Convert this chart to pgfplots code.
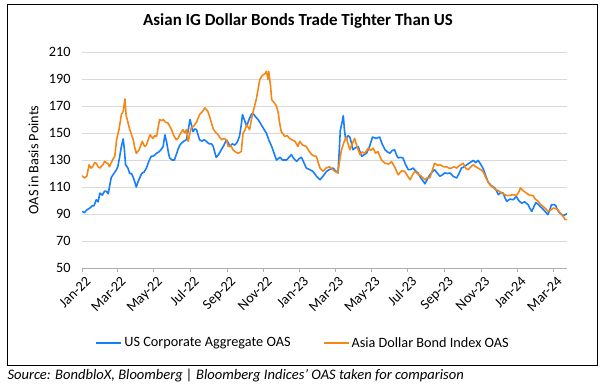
\documentclass[border=0pt]{standalone}
\usepackage{pgfplots}
\pgfplotsset{compat=1.18}
\usepackage{fontspec}
\setmainfont{Carlito}
\definecolor{usblue}{RGB}{22,126,250}
\definecolor{asorange}{RGB}{245,135,22}
\definecolor{gridgray}{RGB}{217,217,217}
\begin{document}
\begin{tikzpicture}
\useasboundingbox (0,0) rectangle (600bp,385bp);
\draw[line width=0.9pt] (7.5bp,20bp) rectangle (597.5bp,380.5bp);
\node[font=\fontsize{17}{20}\selectfont\bfseries] at (298bp,364bp) {Asian IG Dollar Bonds Trade Tighter Than US};
\node[anchor=west,font=\fontsize{14.6}{16}\selectfont\itshape] at (4bp,9.5bp) {Source: BondbloX, Bloomberg | Bloomberg Indices’ OAS taken for comparison};
\begin{axis}[
  at={(82bp,117bp)}, anchor=south west,
  scale only axis, width=485bp, height=216bp,
  xmin=0, xmax=813, ymin=50, ymax=210,
  axis x line*=bottom, axis y line*=left,
  y axis line style={draw=none},
  x axis line style={draw=gridgray!80!black, line width=0.8pt, -},
  ytick={50,70,...,210},
  xtick={0,59,120,181,243,304,365,424,485,546,608,669,730,790},
  xticklabels={Jan-22,Mar-22,May-22,Jul-22,Sep-22,Nov-22,Jan-23,Mar-23,May-23,Jul-23,Sep-23,Nov-23,Jan-24,Mar-24},
  xticklabel style={rotate=45, anchor=north east, font=\fontsize{14.3}{16}\selectfont, xshift=3bp, yshift=-1bp},
  yticklabel style={font=\fontsize{14.3}{16}\selectfont, xshift=-4bp},
  /pgf/number format/assume math mode=true,
  tick align=outside,
  xtick style={draw=gridgray!80!black, line width=0.8pt},
  ytick style={draw=none},
  major tick length=4bp,
  ymajorgrids,
  grid style={gridgray, line width=0.8pt},
  ylabel={OAS in Basis Points},
  ylabel style={font=\fontsize{14.3}{16}\selectfont, at={(axis description cs:-0.1,0.5)}, anchor=center},
  legend style={at={(axis description cs:0.456,-0.347)}, anchor=center, draw=none, fill=none,
    legend columns=2, font=\fontsize{14.3}{16}\selectfont,
    /tikz/every even column/.append style={column sep=30bp}},
  legend image code/.code={\draw[#1,line width=2pt] (0bp,0bp) -- (25bp,0bp);},
  every axis plot/.append style={line width=1.6pt, line join=round},
]
\addplot[usblue] coordinates {
(0,92)(4,91)(8,93)(13,94.4)(17,96)(20,96)(24,100.6)(27,99)(30,105.5)(34,104)(38,107)(41,106.7)(44,105)(46,110)(49,117)(52,119)(55,121)(58,123)(60,125)(63,132)(66,140)(69,145.6)(71,138)(73,126.5)(77,124)(80,120)(83,120)(86,117)(89,113)(91,110)(94,114)(97,117)(100,120)(104,121)(108,124)(112,129)(116,132.7)(120,133)(125,135)(129,136)(133,138)(136,140)(139,148.7)(142,143)(145,135)(147,131.5)(151,130)(155,130)(158,134)(161,138)(164,141)(167,142.6)(171,144)(175,145)(178,152)(181,160)(184,155)(186,151)(189,153)(192,152.5)(195,148)(197,145)(201,144)(205,145)(209,143.5)(213,142)(217,142)(220,140)(223,135)(225,132)(229,134)(234,138)(238,141)(242,145)(245,143)(248,140)(252,142)(256,141)(260,143)(264,147.5)(267,156)(269,163.6)(272,160)(276,155)(280,160)(284,164)(287,164.3)(291,162)(295,160)(298,158)(302,155)(306,152)(309,150)(313,145)(318,140)(322,135)(326,130)(329,131)(332,132)(336,130)(340,130)(343,130)(347,132)(351,134)(355,131)(360,129)(364,131)(368,132)(372,128)(376,124)(381,123)(387,121.6)(393,118)(399,115.4)(404,118)(410,121.6)(415,123)(421,124)(425,122)(429,120.4)(431,135)(433,152)(436,158)(438,162.8)(440,152)(442,145)(446,148)(449,147)(452,142)(454,137.6)(458,139)(463,140)(466,136)(469,132.7)(473,134)(477,135)(482,140)(487,147)(493,146)(499,147)(503,142)(508,137.6)(512,136)(516,135)(520,137)(524,137.6)(527,134)(530,131.5)(534,132)(538,131.5)(542,127)(547,122.8)(551,123)(555,124)(559,122)(563,120.4)(569,116)(575,112.4)(579,116)(583,119)(587,121)(591,122.8)(596,120)(600,118)(604,119)(608,120.4)(613,120)(617,120.4)(622,118)(628,116.7)(632,120)(636,124)(641,125)(645,126.5)(650,128)(656,129.7)(660,128)(664,129.7)(668,127)(672,124)(677,118)(681,113.4)(686,111)(692,109.3)(695,107)(698,104.3)(702,106)(706,105.5)(709,102)(712,99.3)(717,101)(723,100.6)(728,103)(732,100)(737,98)(742,99)(748,96.8)(751,94)(754,91.9)(758,96)(761,98.5)(765,97)(768,95.6)(772,94)(776,92)(781,89.5)(784,93)(787,96.8)(791,97)(794,96.3)(797,93)(801,90.7)(807,88.8)(813,90.2)
};
\addlegendentry{US Corporate Aggregate OAS}
\addplot[asorange] coordinates {
(0,118.4)(4,116.7)(8,118)(12,126.5)(15,124)(18,125)(21,128)(24,127.6)(27,125)(30,124)(35,126.5)(38,129)(41,128)(44,127)(46,125)(49,128)(52,130.8)(55,132.7)(58,145)(62,152.5)(66,163.6)(69,166)(72,175.2)(74,163)(77,158)(80,152.5)(86,145)(88,140)(91,135)(96,137.6)(101,143.8)(105,140)(108,141)(111,145)(114,148.7)(119,146)(122,148)(125,147.5)(130,160)(133,159)(136,160)(140,158)(144,157.5)(147,155)(150,152.5)(154,148)(158,145)(161,146)(164,148.7)(169,152.5)(172,150)(175,152.5)(178,143.8)(183,153.7)(187,155)(192,158)(197,163.6)(202,166)(206,168.6)(211,166)(214,162)(217,157.5)(220,153)(223,151)(228,148.7)(234,145)(238,146)(242,145)(245,140)(249,141)(253,137.6)(257,136)(262,135)(267,136.3)(270,150)(273,152)(276,156)(281,152.5)(284,160)(287,166)(292,174.7)(295,182)(298,189.5)(301,192)(304,193.2)(307,194)(309,195.7)(312,189.5)(313,195.7)(316,185)(318,174.7)(323,172)(326,170)(329,164.8)(331,158)(334,151)(340,147.5)(344,148)(348,146)(352,145)(357,143.8)(362,140)(365,143.8)(370,141)(376,140)(380,137)(385,134)(389,133)(393,132.7)(396,128)(399,124)(404,121.6)(409,124)(415,125)(420,123)(424,121.6)(429,120.4)(432,130)(435,137.6)(439,143)(443,147)(446,142)(449,137.6)(453,142)(457,146)(461,140)(466,134)(470,136)(474,135)(477,137)(480,138.8)(484,137)(488,138.8)(492,135)(496,136.3)(502,130)(508,127.6)(514,127)(519,128.8)(525,124)(530,119)(536,122)(541,121.6)(546,118)(550,115.4)(554,119)(558,121.6)(562,120)(566,119)(571,117)(575,115.4)(579,117)(583,116.7)(587,122)(591,127.6)(596,126)(600,126.5)(606,125)(611,125)(615,124)(619,124)(624,125)(628,124)(633,126)(639,127.6)(643,124)(647,122.8)(652,125)(656,126.5)(660,125)(664,124)(668,123)(672,121.6)(677,117)(681,113.4)(685,111)(689,109.7)(694,108)(698,107.3)(702,106)(706,105)(710,104)(714,103.6)(719,104)(723,104.3)(728,103.6)(732,106)(735,109.3)(740,107)(745,105.5)(750,104)(756,103.6)(760,101)(765,99.3)(769,97)(773,95.6)(777,94)(781,92)(786,93)(790,94.4)(794,94)(798,93.2)(801,91)(804,89.5)(807,88)(810,85.8)(813,85.8)
};
\addlegendentry{Asia Dollar Bond Index OAS}
\end{axis}
\end{tikzpicture}
\end{document}
